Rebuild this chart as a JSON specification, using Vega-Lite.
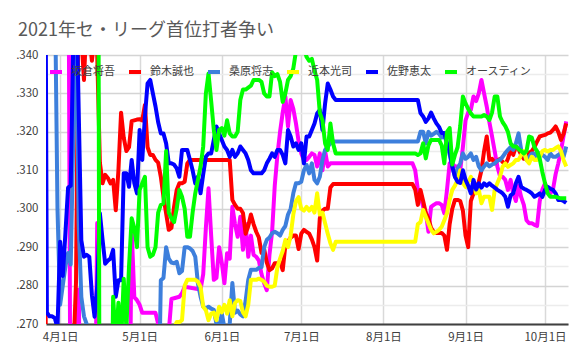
{
"$schema":"https://vega.github.io/schema/vega-lite/v6.json",
"width":522,"height":269,
"autosize":{"type":"none"},
"padding":{"left":46,"top":55,"right":18,"bottom":38},
"background":"white",
"title":{"text":"2021年セ・リーグ首位打者争い","anchor":"start","frame":"group","dx":-28,"offset":9,"font":"Noto Sans CJK JP","fontSize":18,"fontWeight":"normal","color":"#595959"},
"config":{"view":{"stroke":null},"font":"Noto Sans CJK JP"},
"datasets":{
"sakakura":[{"d":"2021/3/26","v":0.40},{"d":"2021/4/4","v":0.40},{"d":"2021/4/5","v":0.22},{"d":"2021/4/7","v":0.24},{"d":"2021/4/8","v":0.279},{"d":"2021/4/9","v":0.23},{"d":"2021/4/14","v":0.23},{"d":"2021/4/15","v":0.2963},{"d":"2021/4/16","v":0.23},{"d":"2021/4/27","v":0.23},{"d":"2021/4/28","v":0.2945},{"d":"2021/4/29","v":0.2770},{"d":"2021/4/30","v":0.2762},{"d":"2021/5/1","v":0.2750},{"d":"2021/5/2","v":0.2729},{"d":"2021/5/7","v":0.2729},{"d":"2021/5/8","v":0.2700},{"d":"2021/5/9","v":0.2680},{"d":"2021/5/12","v":0.2680},{"d":"2021/5/13","v":0.2765},{"d":"2021/5/16","v":0.2771},{"d":"2021/5/17","v":0.2780},{"d":"2021/5/18","v":0.2797},{"d":"2021/5/24","v":0.2790},{"d":"2021/5/25","v":0.2830},{"d":"2021/5/26","v":0.2950},{"d":"2021/5/27","v":0.3053},{"d":"2021/5/28","v":0.2930},{"d":"2021/5/29","v":0.2815},{"d":"2021/5/30","v":0.2820},{"d":"2021/5/31","v":0.2900},{"d":"2021/6/1","v":0.2860},{"d":"2021/6/2","v":0.2806},{"d":"2021/6/3","v":0.2884},{"d":"2021/6/4","v":0.2870},{"d":"2021/6/5","v":0.3005},{"d":"2021/6/6","v":0.2960},{"d":"2021/6/7","v":0.2927},{"d":"2021/6/8","v":0.2979},{"d":"2021/6/9","v":0.2893},{"d":"2021/6/10","v":0.2960},{"d":"2021/6/11","v":0.2875},{"d":"2021/6/12","v":0.2930},{"d":"2021/6/13","v":0.2880},{"d":"2021/6/14","v":0.2875},{"d":"2021/6/15","v":0.2865},{"d":"2021/6/16","v":0.2830},{"d":"2021/6/17","v":0.2806},{"d":"2021/6/18","v":0.2788},{"d":"2021/6/19","v":0.2880},{"d":"2021/6/20","v":0.2940},{"d":"2021/6/21","v":0.3060},{"d":"2021/6/22","v":0.3140},{"d":"2021/6/23","v":0.3200},{"d":"2021/6/24","v":0.3250},{"d":"2021/6/25","v":0.3292},{"d":"2021/6/26","v":0.3214},{"d":"2021/6/27","v":0.3283},{"d":"2021/6/28","v":0.3260},{"d":"2021/6/29","v":0.3222},{"d":"2021/6/30","v":0.3175},{"d":"2021/7/1","v":0.3144},{"d":"2021/7/2","v":0.3127},{"d":"2021/7/3","v":0.3127},{"d":"2021/7/4","v":0.3135},{"d":"2021/7/5","v":0.3144},{"d":"2021/7/6","v":0.3140},{"d":"2021/7/7","v":0.3110},{"d":"2021/7/8","v":0.3144},{"d":"2021/7/9","v":0.3100},{"d":"2021/7/10","v":0.3150},{"d":"2021/7/11","v":0.3110},{"d":"2021/7/12","v":0.3118},{"d":"2021/8/12","v":0.3118},{"d":"2021/8/13","v":0.3100},{"d":"2021/8/14","v":0.3049},{"d":"2021/8/15","v":0.3031},{"d":"2021/8/16","v":0.3005},{"d":"2021/8/17","v":0.2990},{"d":"2021/8/18","v":0.2940},{"d":"2021/8/19","v":0.3005},{"d":"2021/8/20","v":0.3010},{"d":"2021/8/21","v":0.3014},{"d":"2021/8/22","v":0.3014},{"d":"2021/8/23","v":0.3010},{"d":"2021/8/24","v":0.2988},{"d":"2021/8/25","v":0.3049},{"d":"2021/8/26","v":0.3118},{"d":"2021/8/27","v":0.3118},{"d":"2021/8/28","v":0.3110},{"d":"2021/8/29","v":0.3110},{"d":"2021/8/30","v":0.3100},{"d":"2021/8/31","v":0.3160},{"d":"2021/9/1","v":0.3230},{"d":"2021/9/2","v":0.3250},{"d":"2021/9/3","v":0.3257},{"d":"2021/9/4","v":0.3292},{"d":"2021/9/5","v":0.3280},{"d":"2021/9/6","v":0.3300},{"d":"2021/9/7","v":0.3335},{"d":"2021/9/8","v":0.3300},{"d":"2021/9/9","v":0.3266},{"d":"2021/9/10","v":0.3225},{"d":"2021/9/11","v":0.3188},{"d":"2021/9/12","v":0.3150},{"d":"2021/9/13","v":0.3110},{"d":"2021/9/14","v":0.3085},{"d":"2021/9/15","v":0.3083},{"d":"2021/9/16","v":0.3075},{"d":"2021/9/17","v":0.3049},{"d":"2021/9/18","v":0.3075},{"d":"2021/9/19","v":0.3040},{"d":"2021/9/20","v":0.3020},{"d":"2021/9/21","v":0.3060},{"d":"2021/9/22","v":0.3030},{"d":"2021/9/23","v":0.3010},{"d":"2021/9/24","v":0.2970},{"d":"2021/9/25","v":0.2962},{"d":"2021/9/26","v":0.2962},{"d":"2021/9/27","v":0.2958},{"d":"2021/9/28","v":0.2955},{"d":"2021/9/29","v":0.3020},{"d":"2021/9/30","v":0.3050},{"d":"2021/10/1","v":0.3066},{"d":"2021/10/2","v":0.3045},{"d":"2021/10/3","v":0.3040},{"d":"2021/10/4","v":0.3050},{"d":"2021/10/5","v":0.3090},{"d":"2021/10/6","v":0.3118},{"d":"2021/10/7","v":0.3150},{"d":"2021/10/8","v":0.3190},{"d":"2021/10/9","v":0.3227}],
"suzuki":[{"d":"2021/3/26","v":0.333},{"d":"2021/3/27","v":0.22},{"d":"2021/4/5","v":0.22},{"d":"2021/4/6","v":0.262},{"d":"2021/4/7","v":0.281},{"d":"2021/4/8","v":0.36},{"d":"2021/4/9","v":0.345},{"d":"2021/4/10","v":0.3335},{"d":"2021/4/11","v":0.35},{"d":"2021/4/12","v":0.345},{"d":"2021/4/13","v":0.3385},{"d":"2021/4/14","v":0.345},{"d":"2021/4/15","v":0.34},{"d":"2021/4/16","v":0.312},{"d":"2021/4/17","v":0.3066},{"d":"2021/4/18","v":0.3088},{"d":"2021/4/19","v":0.3080},{"d":"2021/4/20","v":0.3066},{"d":"2021/4/21","v":0.3075},{"d":"2021/4/22","v":0.2996},{"d":"2021/4/23","v":0.3100},{"d":"2021/4/24","v":0.3250},{"d":"2021/4/25","v":0.3185},{"d":"2021/4/26","v":0.3150},{"d":"2021/4/27","v":0.3160},{"d":"2021/4/28","v":0.3228},{"d":"2021/4/29","v":0.3230},{"d":"2021/4/30","v":0.3232},{"d":"2021/5/1","v":0.3233},{"d":"2021/5/2","v":0.3230},{"d":"2021/5/3","v":0.3270},{"d":"2021/5/4","v":0.3160},{"d":"2021/5/5","v":0.3140},{"d":"2021/5/6","v":0.3140},{"d":"2021/5/7","v":0.3127},{"d":"2021/5/8","v":0.3120},{"d":"2021/5/9","v":0.3083},{"d":"2021/5/10","v":0.3031},{"d":"2021/5/11","v":0.2988},{"d":"2021/5/12","v":0.2945},{"d":"2021/5/13","v":0.2950},{"d":"2021/5/14","v":0.3005},{"d":"2021/5/15","v":0.3049},{"d":"2021/5/16","v":0.3066},{"d":"2021/5/17","v":0.3066},{"d":"2021/5/18","v":0.3070},{"d":"2021/5/19","v":0.3118},{"d":"2021/5/20","v":0.3127},{"d":"2021/6/4","v":0.3127},{"d":"2021/6/5","v":0.3023},{"d":"2021/6/6","v":0.3010},{"d":"2021/6/7","v":0.3000},{"d":"2021/6/8","v":0.3000},{"d":"2021/6/9","v":0.2989},{"d":"2021/6/10","v":0.2935},{"d":"2021/6/11","v":0.2955},{"d":"2021/6/12","v":0.2985},{"d":"2021/6/13","v":0.2960},{"d":"2021/6/14","v":0.2940},{"d":"2021/6/15","v":0.2925},{"d":"2021/6/16","v":0.2885},{"d":"2021/6/17","v":0.2895},{"d":"2021/6/18","v":0.2860},{"d":"2021/6/19","v":0.2840},{"d":"2021/6/20","v":0.2845},{"d":"2021/6/21","v":0.2858},{"d":"2021/6/22","v":0.2858},{"d":"2021/6/23","v":0.2862},{"d":"2021/6/24","v":0.2840},{"d":"2021/6/25","v":0.2905},{"d":"2021/6/26","v":0.2915},{"d":"2021/6/27","v":0.2925},{"d":"2021/6/28","v":0.2930},{"d":"2021/6/29","v":0.2930},{"d":"2021/6/30","v":0.2895},{"d":"2021/7/1","v":0.2935},{"d":"2021/7/2","v":0.2945},{"d":"2021/7/3","v":0.2940},{"d":"2021/7/4","v":0.2935},{"d":"2021/7/5","v":0.2920},{"d":"2021/7/6","v":0.2900},{"d":"2021/7/7","v":0.2865},{"d":"2021/7/8","v":0.2975},{"d":"2021/7/9","v":0.2995},{"d":"2021/7/10","v":0.3000},{"d":"2021/7/11","v":0.3000},{"d":"2021/7/12","v":0.3055},{"d":"2021/7/13","v":0.3064},{"d":"2021/8/12","v":0.3064},{"d":"2021/8/13","v":0.3050},{"d":"2021/8/14","v":0.3010},{"d":"2021/8/15","v":0.3049},{"d":"2021/8/16","v":0.3020},{"d":"2021/8/17","v":0.2989},{"d":"2021/8/18","v":0.2975},{"d":"2021/8/19","v":0.2950},{"d":"2021/8/20","v":0.2940},{"d":"2021/8/21","v":0.2937},{"d":"2021/8/22","v":0.2937},{"d":"2021/8/23","v":0.2937},{"d":"2021/8/24","v":0.2930},{"d":"2021/8/25","v":0.2893},{"d":"2021/8/26","v":0.2960},{"d":"2021/8/27","v":0.3000},{"d":"2021/8/28","v":0.3023},{"d":"2021/8/29","v":0.3023},{"d":"2021/8/30","v":0.3020},{"d":"2021/8/31","v":0.2995},{"d":"2021/9/1","v":0.2930},{"d":"2021/9/2","v":0.2900},{"d":"2021/9/3","v":0.3020},{"d":"2021/9/4","v":0.3040},{"d":"2021/9/5","v":0.3055},{"d":"2021/9/6","v":0.3070},{"d":"2021/9/7","v":0.3100},{"d":"2021/9/8","v":0.3150},{"d":"2021/9/9","v":0.3188},{"d":"2021/9/10","v":0.3127},{"d":"2021/9/11","v":0.3130},{"d":"2021/9/12","v":0.3118},{"d":"2021/9/13","v":0.3125},{"d":"2021/9/14","v":0.3130},{"d":"2021/9/15","v":0.3122},{"d":"2021/9/16","v":0.3114},{"d":"2021/9/17","v":0.3130},{"d":"2021/9/18","v":0.3153},{"d":"2021/9/19","v":0.3140},{"d":"2021/9/20","v":0.3162},{"d":"2021/9/21","v":0.3155},{"d":"2021/9/22","v":0.3140},{"d":"2021/9/23","v":0.3130},{"d":"2021/9/24","v":0.3135},{"d":"2021/9/25","v":0.3145},{"d":"2021/9/26","v":0.3150},{"d":"2021/9/27","v":0.3160},{"d":"2021/9/28","v":0.3175},{"d":"2021/9/29","v":0.3188},{"d":"2021/9/30","v":0.3190},{"d":"2021/10/1","v":0.3192},{"d":"2021/10/2","v":0.3196},{"d":"2021/10/3","v":0.3198},{"d":"2021/10/4","v":0.3205},{"d":"2021/10/5","v":0.3214},{"d":"2021/10/6","v":0.3200},{"d":"2021/10/7","v":0.3179},{"d":"2021/10/8","v":0.3195},{"d":"2021/10/9","v":0.3222}],
"kuwahara":[{"d":"2021/3/26","v":0.40},{"d":"2021/3/29","v":0.40},{"d":"2021/3/30","v":0.36},{"d":"2021/3/31","v":0.300},{"d":"2021/4/1","v":0.2750},{"d":"2021/4/2","v":0.2800},{"d":"2021/4/3","v":0.2850},{"d":"2021/4/4","v":0.2885},{"d":"2021/4/5","v":0.2855},{"d":"2021/4/6","v":0.3200},{"d":"2021/4/7","v":0.36},{"d":"2021/4/8","v":0.2960},{"d":"2021/4/9","v":0.2770},{"d":"2021/4/10","v":0.2720},{"d":"2021/4/11","v":0.2700},{"d":"2021/4/12","v":0.24},{"d":"2021/5/8","v":0.24},{"d":"2021/5/9","v":0.2814},{"d":"2021/5/10","v":0.2820},{"d":"2021/5/11","v":0.2900},{"d":"2021/5/12","v":0.2870},{"d":"2021/5/13","v":0.2860},{"d":"2021/5/14","v":0.2858},{"d":"2021/5/15","v":0.2862},{"d":"2021/5/16","v":0.2832},{"d":"2021/5/17","v":0.2838},{"d":"2021/5/18","v":0.2900},{"d":"2021/5/19","v":0.2900},{"d":"2021/5/20","v":0.2897},{"d":"2021/5/21","v":0.2890},{"d":"2021/5/22","v":0.2875},{"d":"2021/5/23","v":0.2806},{"d":"2021/5/24","v":0.2771},{"d":"2021/5/25","v":0.2745},{"d":"2021/5/26","v":0.2740},{"d":"2021/5/27","v":0.2745},{"d":"2021/5/28","v":0.2740},{"d":"2021/5/29","v":0.2737},{"d":"2021/5/30","v":0.2700},{"d":"2021/5/31","v":0.2690},{"d":"2021/6/1","v":0.2728},{"d":"2021/6/2","v":0.2690},{"d":"2021/6/3","v":0.2680},{"d":"2021/6/4","v":0.2700},{"d":"2021/6/5","v":0.2807},{"d":"2021/6/6","v":0.2729},{"d":"2021/6/7","v":0.2735},{"d":"2021/6/8","v":0.2725},{"d":"2021/6/9","v":0.2720},{"d":"2021/6/10","v":0.2760},{"d":"2021/6/11","v":0.2815},{"d":"2021/6/12","v":0.2841},{"d":"2021/6/13","v":0.2841},{"d":"2021/6/14","v":0.2841},{"d":"2021/6/15","v":0.2846},{"d":"2021/6/16","v":0.2848},{"d":"2021/6/17","v":0.2900},{"d":"2021/6/18","v":0.2919},{"d":"2021/6/19","v":0.2925},{"d":"2021/6/20","v":0.2936},{"d":"2021/6/21","v":0.2940},{"d":"2021/6/22","v":0.2936},{"d":"2021/6/23","v":0.2930},{"d":"2021/6/24","v":0.2945},{"d":"2021/6/25","v":0.2955},{"d":"2021/6/26","v":0.2985},{"d":"2021/6/27","v":0.3000},{"d":"2021/6/28","v":0.3040},{"d":"2021/6/29","v":0.3066},{"d":"2021/6/30","v":0.3066},{"d":"2021/7/1","v":0.3070},{"d":"2021/7/2","v":0.3100},{"d":"2021/7/3","v":0.3114},{"d":"2021/7/4","v":0.3092},{"d":"2021/7/5","v":0.3118},{"d":"2021/7/6","v":0.3075},{"d":"2021/7/7","v":0.3066},{"d":"2021/7/8","v":0.3083},{"d":"2021/7/9","v":0.3127},{"d":"2021/7/10","v":0.3153},{"d":"2021/7/11","v":0.3162},{"d":"2021/7/12","v":0.3170},{"d":"2021/7/13","v":0.3175},{"d":"2021/8/13","v":0.3175},{"d":"2021/8/14","v":0.3175},{"d":"2021/8/15","v":0.3200},{"d":"2021/8/16","v":0.3200},{"d":"2021/8/17","v":0.3170},{"d":"2021/8/18","v":0.3200},{"d":"2021/8/19","v":0.3190},{"d":"2021/8/20","v":0.3195},{"d":"2021/8/21","v":0.3200},{"d":"2021/8/22","v":0.3195},{"d":"2021/8/23","v":0.3185},{"d":"2021/8/24","v":0.3190},{"d":"2021/8/25","v":0.3170},{"d":"2021/8/26","v":0.3140},{"d":"2021/8/27","v":0.3110},{"d":"2021/8/28","v":0.3083},{"d":"2021/8/29","v":0.3105},{"d":"2021/8/30","v":0.3118},{"d":"2021/8/31","v":0.3144},{"d":"2021/9/1","v":0.3130},{"d":"2021/9/2","v":0.3135},{"d":"2021/9/3","v":0.3144},{"d":"2021/9/4","v":0.3127},{"d":"2021/9/5","v":0.3135},{"d":"2021/9/6","v":0.3110},{"d":"2021/9/7","v":0.3100},{"d":"2021/9/8","v":0.3110},{"d":"2021/9/9","v":0.3118},{"d":"2021/9/10","v":0.3110},{"d":"2021/9/11","v":0.3115},{"d":"2021/9/12","v":0.3118},{"d":"2021/9/13","v":0.3125},{"d":"2021/9/14","v":0.3127},{"d":"2021/9/15","v":0.3135},{"d":"2021/9/16","v":0.3145},{"d":"2021/9/17","v":0.3153},{"d":"2021/9/18","v":0.3160},{"d":"2021/9/19","v":0.3153},{"d":"2021/9/20","v":0.3170},{"d":"2021/9/21","v":0.3196},{"d":"2021/9/22","v":0.3153},{"d":"2021/9/23","v":0.3144},{"d":"2021/9/24","v":0.3127},{"d":"2021/9/25","v":0.3135},{"d":"2021/9/26","v":0.3144},{"d":"2021/9/27","v":0.3144},{"d":"2021/9/28","v":0.3135},{"d":"2021/9/29","v":0.3144},{"d":"2021/9/30","v":0.3140},{"d":"2021/10/1","v":0.3135},{"d":"2021/10/2","v":0.3127},{"d":"2021/10/3","v":0.3144},{"d":"2021/10/4","v":0.3135},{"d":"2021/10/5","v":0.3135},{"d":"2021/10/6","v":0.3140},{"d":"2021/10/7","v":0.3144},{"d":"2021/10/8","v":0.3135},{"d":"2021/10/9","v":0.3162}],
"chikamoto":[{"d":"2021/3/26","v":0.25},{"d":"2021/5/14","v":0.2690},{"d":"2021/5/15","v":0.2705},{"d":"2021/5/16","v":0.2705},{"d":"2021/5/17","v":0.2710},{"d":"2021/5/18","v":0.2800},{"d":"2021/5/19","v":0.2815},{"d":"2021/5/22","v":0.2815},{"d":"2021/5/23","v":0.2810},{"d":"2021/5/24","v":0.2797},{"d":"2021/5/25","v":0.2745},{"d":"2021/5/26","v":0.2736},{"d":"2021/5/27","v":0.2710},{"d":"2021/5/28","v":0.2727},{"d":"2021/5/29","v":0.2730},{"d":"2021/5/30","v":0.2710},{"d":"2021/5/31","v":0.2745},{"d":"2021/6/1","v":0.2730},{"d":"2021/6/2","v":0.2750},{"d":"2021/6/3","v":0.2727},{"d":"2021/6/4","v":0.2762},{"d":"2021/6/5","v":0.2720},{"d":"2021/6/6","v":0.2755},{"d":"2021/6/7","v":0.2762},{"d":"2021/6/8","v":0.2760},{"d":"2021/6/9","v":0.2730},{"d":"2021/6/10","v":0.2720},{"d":"2021/6/11","v":0.2750},{"d":"2021/6/12","v":0.2815},{"d":"2021/6/13","v":0.2815},{"d":"2021/6/14","v":0.2815},{"d":"2021/6/15","v":0.2818},{"d":"2021/6/16","v":0.2815},{"d":"2021/6/17","v":0.2810},{"d":"2021/6/18","v":0.2800},{"d":"2021/6/19","v":0.2797},{"d":"2021/6/20","v":0.2797},{"d":"2021/6/21","v":0.2800},{"d":"2021/6/22","v":0.2848},{"d":"2021/6/23","v":0.2870},{"d":"2021/6/24","v":0.2890},{"d":"2021/6/25","v":0.2919},{"d":"2021/6/26","v":0.2900},{"d":"2021/6/27","v":0.2930},{"d":"2021/6/28","v":0.2985},{"d":"2021/6/29","v":0.3020},{"d":"2021/6/30","v":0.3030},{"d":"2021/7/1","v":0.3000},{"d":"2021/7/2","v":0.2995},{"d":"2021/7/3","v":0.3005},{"d":"2021/7/4","v":0.2995},{"d":"2021/7/5","v":0.3005},{"d":"2021/7/6","v":0.2990},{"d":"2021/7/7","v":0.3040},{"d":"2021/7/8","v":0.2985},{"d":"2021/7/9","v":0.2990},{"d":"2021/7/10","v":0.2962},{"d":"2021/7/11","v":0.2935},{"d":"2021/7/12","v":0.2910},{"d":"2021/7/13","v":0.2893},{"d":"2021/7/14","v":0.2914},{"d":"2021/8/12","v":0.2914},{"d":"2021/8/13","v":0.2914},{"d":"2021/8/14","v":0.2960},{"d":"2021/8/15","v":0.2965},{"d":"2021/8/16","v":0.2997},{"d":"2021/8/17","v":0.2979},{"d":"2021/8/18","v":0.2962},{"d":"2021/8/19","v":0.2945},{"d":"2021/8/20","v":0.2936},{"d":"2021/8/21","v":0.2940},{"d":"2021/8/22","v":0.2945},{"d":"2021/8/23","v":0.2953},{"d":"2021/8/24","v":0.2970},{"d":"2021/8/25","v":0.2988},{"d":"2021/8/26","v":0.3023},{"d":"2021/8/27","v":0.3049},{"d":"2021/8/28","v":0.3060},{"d":"2021/8/29","v":0.3075},{"d":"2021/8/30","v":0.3100},{"d":"2021/8/31","v":0.3066},{"d":"2021/9/1","v":0.3057},{"d":"2021/9/2","v":0.3070},{"d":"2021/9/3","v":0.3083},{"d":"2021/9/4","v":0.3066},{"d":"2021/9/5","v":0.3040},{"d":"2021/9/6","v":0.3049},{"d":"2021/9/7","v":0.3014},{"d":"2021/9/8","v":0.3031},{"d":"2021/9/9","v":0.3031},{"d":"2021/9/10","v":0.3031},{"d":"2021/9/11","v":0.2997},{"d":"2021/9/12","v":0.3049},{"d":"2021/9/13","v":0.3066},{"d":"2021/9/14","v":0.3083},{"d":"2021/9/15","v":0.3109},{"d":"2021/9/16","v":0.3118},{"d":"2021/9/17","v":0.3109},{"d":"2021/9/18","v":0.3114},{"d":"2021/9/19","v":0.3118},{"d":"2021/9/20","v":0.3127},{"d":"2021/9/21","v":0.3127},{"d":"2021/9/22","v":0.3140},{"d":"2021/9/23","v":0.3150},{"d":"2021/9/24","v":0.3127},{"d":"2021/9/25","v":0.3118},{"d":"2021/9/26","v":0.3135},{"d":"2021/9/27","v":0.3127},{"d":"2021/9/28","v":0.3127},{"d":"2021/9/29","v":0.3135},{"d":"2021/9/30","v":0.3150},{"d":"2021/10/1","v":0.3153},{"d":"2021/10/2","v":0.3149},{"d":"2021/10/3","v":0.3153},{"d":"2021/10/4","v":0.3153},{"d":"2021/10/5","v":0.3158},{"d":"2021/10/6","v":0.3162},{"d":"2021/10/7","v":0.3150},{"d":"2021/10/8","v":0.3127},{"d":"2021/10/9","v":0.3110}],
"sano":[{"d":"2021/3/26","v":0.45},{"d":"2021/3/27","v":0.273},{"d":"2021/3/28","v":0.272},{"d":"2021/3/29","v":0.272},{"d":"2021/3/30","v":0.2715},{"d":"2021/3/31","v":0.269},{"d":"2021/4/1","v":0.2914},{"d":"2021/4/2","v":0.2825},{"d":"2021/4/3","v":0.2937},{"d":"2021/4/4","v":0.3055},{"d":"2021/4/5","v":0.306},{"d":"2021/4/6","v":0.345},{"d":"2021/4/7","v":0.36},{"d":"2021/4/9","v":0.2918},{"d":"2021/4/10","v":0.2875},{"d":"2021/4/11","v":0.2880},{"d":"2021/4/12","v":0.2875},{"d":"2021/4/13","v":0.2775},{"d":"2021/4/14","v":0.2719},{"d":"2021/4/15","v":0.2800},{"d":"2021/4/16","v":0.2988},{"d":"2021/4/17","v":0.2920},{"d":"2021/4/18","v":0.2857},{"d":"2021/4/19","v":0.2865},{"d":"2021/4/20","v":0.2870},{"d":"2021/4/21","v":0.2893},{"d":"2021/4/22","v":0.2771},{"d":"2021/4/23","v":0.2814},{"d":"2021/4/24","v":0.2814},{"d":"2021/4/25","v":0.3092},{"d":"2021/4/26","v":0.3092},{"d":"2021/4/27","v":0.3057},{"d":"2021/4/28","v":0.3127},{"d":"2021/4/29","v":0.3066},{"d":"2021/4/30","v":0.3040},{"d":"2021/5/1","v":0.3205},{"d":"2021/5/2","v":0.3127},{"d":"2021/5/3","v":0.3240},{"d":"2021/5/4","v":0.3326},{"d":"2021/5/5","v":0.3335},{"d":"2021/5/6","v":0.3300},{"d":"2021/5/7","v":0.3266},{"d":"2021/5/8","v":0.3225},{"d":"2021/5/9","v":0.3196},{"d":"2021/5/10","v":0.3196},{"d":"2021/5/11","v":0.3170},{"d":"2021/5/12","v":0.3118},{"d":"2021/5/13","v":0.3118},{"d":"2021/5/14","v":0.3115},{"d":"2021/5/15","v":0.3105},{"d":"2021/5/16","v":0.3083},{"d":"2021/5/17","v":0.3153},{"d":"2021/5/18","v":0.3153},{"d":"2021/5/19","v":0.3153},{"d":"2021/5/20","v":0.3127},{"d":"2021/5/21","v":0.3100},{"d":"2021/5/22","v":0.3066},{"d":"2021/5/23","v":0.3083},{"d":"2021/5/24","v":0.3040},{"d":"2021/5/25","v":0.3090},{"d":"2021/5/26","v":0.3135},{"d":"2021/5/27","v":0.3144},{"d":"2021/5/28","v":0.3144},{"d":"2021/5/29","v":0.3179},{"d":"2021/5/30","v":0.3214},{"d":"2021/5/31","v":0.3196},{"d":"2021/6/1","v":0.3179},{"d":"2021/6/2","v":0.3162},{"d":"2021/6/3","v":0.3153},{"d":"2021/6/4","v":0.3135},{"d":"2021/6/5","v":0.3153},{"d":"2021/6/6","v":0.3135},{"d":"2021/6/7","v":0.3144},{"d":"2021/6/8","v":0.3162},{"d":"2021/6/9","v":0.3153},{"d":"2021/6/10","v":0.3144},{"d":"2021/6/11","v":0.3127},{"d":"2021/6/12","v":0.3100},{"d":"2021/6/13","v":0.3092},{"d":"2021/6/14","v":0.3092},{"d":"2021/6/15","v":0.3092},{"d":"2021/6/16","v":0.3092},{"d":"2021/6/17","v":0.3100},{"d":"2021/6/18","v":0.3118},{"d":"2021/6/19","v":0.3130},{"d":"2021/6/20","v":0.3144},{"d":"2021/6/21","v":0.3135},{"d":"2021/6/22","v":0.3153},{"d":"2021/6/23","v":0.3153},{"d":"2021/6/24","v":0.3140},{"d":"2021/6/25","v":0.3118},{"d":"2021/6/26","v":0.3205},{"d":"2021/6/27","v":0.3188},{"d":"2021/6/28","v":0.3162},{"d":"2021/6/29","v":0.3170},{"d":"2021/6/30","v":0.3153},{"d":"2021/7/1","v":0.3170},{"d":"2021/7/2","v":0.3118},{"d":"2021/7/3","v":0.3188},{"d":"2021/7/4","v":0.3188},{"d":"2021/7/5","v":0.3205},{"d":"2021/7/6","v":0.3222},{"d":"2021/7/7","v":0.3248},{"d":"2021/7/8","v":0.3257},{"d":"2021/7/9","v":0.3205},{"d":"2021/7/10","v":0.3274},{"d":"2021/7/11","v":0.3326},{"d":"2021/7/12","v":0.3310},{"d":"2021/7/13","v":0.3292},{"d":"2021/7/14","v":0.3283},{"d":"2021/8/14","v":0.3283},{"d":"2021/8/15","v":0.3249},{"d":"2021/8/16","v":0.3240},{"d":"2021/8/17","v":0.3226},{"d":"2021/8/18","v":0.3235},{"d":"2021/8/19","v":0.3250},{"d":"2021/8/20","v":0.3235},{"d":"2021/8/21","v":0.3222},{"d":"2021/8/22","v":0.3213},{"d":"2021/8/23","v":0.3197},{"d":"2021/8/24","v":0.3197},{"d":"2021/8/25","v":0.3170},{"d":"2021/8/26","v":0.3150},{"d":"2021/8/27","v":0.3110},{"d":"2021/8/28","v":0.3083},{"d":"2021/8/29","v":0.3070},{"d":"2021/8/30","v":0.3067},{"d":"2021/8/31","v":0.3100},{"d":"2021/9/1","v":0.3075},{"d":"2021/9/2","v":0.3060},{"d":"2021/9/3","v":0.3040},{"d":"2021/9/4","v":0.3075},{"d":"2021/9/5","v":0.3050},{"d":"2021/9/6","v":0.3066},{"d":"2021/9/7","v":0.3055},{"d":"2021/9/8","v":0.3066},{"d":"2021/9/9","v":0.3060},{"d":"2021/9/10","v":0.3066},{"d":"2021/9/11","v":0.3060},{"d":"2021/9/12","v":0.3055},{"d":"2021/9/13","v":0.3049},{"d":"2021/9/14","v":0.3045},{"d":"2021/9/15","v":0.3040},{"d":"2021/9/16","v":0.3031},{"d":"2021/9/17","v":0.3005},{"d":"2021/9/18","v":0.3035},{"d":"2021/9/19","v":0.3040},{"d":"2021/9/20","v":0.3066},{"d":"2021/9/21","v":0.3083},{"d":"2021/9/22","v":0.3057},{"d":"2021/9/23","v":0.3052},{"d":"2021/9/24","v":0.3049},{"d":"2021/9/25","v":0.3045},{"d":"2021/9/26","v":0.3040},{"d":"2021/9/27","v":0.3031},{"d":"2021/9/28","v":0.3035},{"d":"2021/9/29","v":0.3040},{"d":"2021/9/30","v":0.3031},{"d":"2021/10/1","v":0.3049},{"d":"2021/10/2","v":0.3057},{"d":"2021/10/3","v":0.3052},{"d":"2021/10/4","v":0.3049},{"d":"2021/10/5","v":0.3040},{"d":"2021/10/6","v":0.3023},{"d":"2021/10/7","v":0.3023},{"d":"2021/10/8","v":0.3020},{"d":"2021/10/9","v":0.3015}],
"austin":[{"d":"2021/4/15","v":0.50},{"d":"2021/4/16","v":0.20},{"d":"2021/4/20","v":0.22},{"d":"2021/4/21","v":0.2771},{"d":"2021/4/22","v":0.2650},{"d":"2021/4/23","v":0.2755},{"d":"2021/4/24","v":0.2650},{"d":"2021/4/25","v":0.2818},{"d":"2021/4/26","v":0.2690},{"d":"2021/4/27","v":0.2850},{"d":"2021/4/28","v":0.2975},{"d":"2021/4/29","v":0.2950},{"d":"2021/4/30","v":0.2900},{"d":"2021/5/1","v":0.3049},{"d":"2021/5/2","v":0.3066},{"d":"2021/5/3","v":0.3083},{"d":"2021/5/4","v":0.2900},{"d":"2021/5/5","v":0.2875},{"d":"2021/5/6","v":0.2880},{"d":"2021/5/7","v":0.2900},{"d":"2021/5/8","v":0.2990},{"d":"2021/5/9","v":0.3010},{"d":"2021/5/10","v":0.3014},{"d":"2021/5/11","v":0.3150},{"d":"2021/5/12","v":0.2990},{"d":"2021/5/13","v":0.2975},{"d":"2021/5/14","v":0.2965},{"d":"2021/5/15","v":0.3000},{"d":"2021/5/16","v":0.3049},{"d":"2021/5/17","v":0.3031},{"d":"2021/5/18","v":0.3000},{"d":"2021/5/19","v":0.2927},{"d":"2021/5/20","v":0.2927},{"d":"2021/5/21","v":0.2990},{"d":"2021/5/22","v":0.3040},{"d":"2021/5/23","v":0.3075},{"d":"2021/5/24","v":0.3110},{"d":"2021/5/25","v":0.3162},{"d":"2021/5/26","v":0.3300},{"d":"2021/5/27","v":0.3352},{"d":"2021/5/28","v":0.3280},{"d":"2021/5/29","v":0.3205},{"d":"2021/5/30","v":0.3153},{"d":"2021/5/31","v":0.3205},{"d":"2021/6/1","v":0.3210},{"d":"2021/6/2","v":0.3190},{"d":"2021/6/3","v":0.3230},{"d":"2021/6/4","v":0.3196},{"d":"2021/6/5","v":0.3188},{"d":"2021/6/6","v":0.3188},{"d":"2021/6/7","v":0.3200},{"d":"2021/6/8","v":0.3283},{"d":"2021/6/9","v":0.3310},{"d":"2021/6/10","v":0.3310},{"d":"2021/6/11","v":0.3315},{"d":"2021/6/12","v":0.3320},{"d":"2021/6/13","v":0.3335},{"d":"2021/6/14","v":0.3335},{"d":"2021/6/15","v":0.3335},{"d":"2021/6/16","v":0.3330},{"d":"2021/6/17","v":0.3300},{"d":"2021/6/18","v":0.3292},{"d":"2021/6/19","v":0.3292},{"d":"2021/6/20","v":0.3355},{"d":"2021/6/21","v":0.3345},{"d":"2021/6/22","v":0.3350},{"d":"2021/6/23","v":0.3330},{"d":"2021/6/24","v":0.3278},{"d":"2021/6/25","v":0.3300},{"d":"2021/6/26","v":0.3335},{"d":"2021/6/27","v":0.3345},{"d":"2021/6/28","v":0.3365},{"d":"2021/6/29","v":0.3410},{"d":"2021/6/30","v":0.3440},{"d":"2021/7/1","v":0.3450},{"d":"2021/7/2","v":0.3420},{"d":"2021/7/3","v":0.3395},{"d":"2021/7/4","v":0.3385},{"d":"2021/7/5","v":0.3390},{"d":"2021/7/6","v":0.3360},{"d":"2021/7/7","v":0.3335},{"d":"2021/7/8","v":0.3250},{"d":"2021/7/9","v":0.3230},{"d":"2021/7/10","v":0.3170},{"d":"2021/7/11","v":0.3153},{"d":"2021/7/12","v":0.3222},{"d":"2021/7/13","v":0.3170},{"d":"2021/7/14","v":0.3144},{"d":"2021/8/13","v":0.3144},{"d":"2021/8/14","v":0.3140},{"d":"2021/8/15","v":0.3144},{"d":"2021/8/16","v":0.3170},{"d":"2021/8/17","v":0.3131},{"d":"2021/8/18","v":0.3165},{"d":"2021/8/19","v":0.3179},{"d":"2021/8/20","v":0.3179},{"d":"2021/8/21","v":0.3179},{"d":"2021/8/22","v":0.3179},{"d":"2021/8/23","v":0.3165},{"d":"2021/8/24","v":0.3118},{"d":"2021/8/25","v":0.3200},{"d":"2021/8/26","v":0.3210},{"d":"2021/8/27","v":0.3115},{"d":"2021/8/28","v":0.3140},{"d":"2021/8/29","v":0.3160},{"d":"2021/8/30","v":0.3215},{"d":"2021/8/31","v":0.3292},{"d":"2021/9/1","v":0.3274},{"d":"2021/9/2","v":0.3260},{"d":"2021/9/3","v":0.3248},{"d":"2021/9/4","v":0.3240},{"d":"2021/9/5","v":0.3240},{"d":"2021/9/6","v":0.3240},{"d":"2021/9/7","v":0.3240},{"d":"2021/9/8","v":0.3244},{"d":"2021/9/9","v":0.3240},{"d":"2021/9/10","v":0.3231},{"d":"2021/9/11","v":0.3250},{"d":"2021/9/12","v":0.3292},{"d":"2021/9/13","v":0.3292},{"d":"2021/9/14","v":0.3240},{"d":"2021/9/15","v":0.3225},{"d":"2021/9/16","v":0.3215},{"d":"2021/9/17","v":0.3200},{"d":"2021/9/18","v":0.3170},{"d":"2021/9/19","v":0.3162},{"d":"2021/9/20","v":0.3162},{"d":"2021/9/21","v":0.3155},{"d":"2021/9/22","v":0.3150},{"d":"2021/9/23","v":0.3144},{"d":"2021/9/24","v":0.3150},{"d":"2021/9/25","v":0.3188},{"d":"2021/9/26","v":0.3185},{"d":"2021/9/27","v":0.3160},{"d":"2021/9/28","v":0.3150},{"d":"2021/9/29","v":0.3130},{"d":"2021/9/30","v":0.3095},{"d":"2021/10/1","v":0.3066},{"d":"2021/10/2","v":0.3040},{"d":"2021/10/3","v":0.3031},{"d":"2021/10/4","v":0.3031},{"d":"2021/10/5","v":0.3031},{"d":"2021/10/6","v":0.3029},{"d":"2021/10/7","v":0.3027},{"d":"2021/10/8","v":0.3027},{"d":"2021/10/9","v":0.3027}]
},
"encoding":{
"x":{"field":"d","type":"temporal","scale":{"domain":[{"year":2021,"month":3,"date":26,"hours":16},{"year":2021,"month":10,"date":9,"hours":16}]},
"axis":{"title":null,"values":[{"year":2021,"month":4,"date":1},{"year":2021,"month":5,"date":1},{"year":2021,"month":6,"date":1},{"year":2021,"month":7,"date":1},{"year":2021,"month":8,"date":1},{"year":2021,"month":9,"date":1},{"year":2021,"month":10,"date":1}],"format":"%-m月%-d日","labelFont":"Noto Sans CJK JP","labelFontSize":11.5,"labelColor":"#404040","labelPadding":7,"labelAngle":0,"labelFlush":false,"labelOverlap":false,"ticks":false,"domainColor":"#404040","domainWidth":2,"gridColor":"#d9d9d9","gridWidth":1.5}},
"y":{"field":"v","type":"quantitative","scale":{"domain":[0.27,0.34],"zero":false,"nice":false},
"axis":{"title":null,"values":[0.27,0.275,0.28,0.285,0.29,0.295,0.3,0.305,0.31,0.315,0.32,0.325,0.33,0.335,0.34],"labelExpr":"round(datum.value*1000) % 10 === 0 ? substring(format(datum.value,'.3f'),1) : ''","labelFont":"Noto Sans CJK JP","labelFontSize":11.5,"labelColor":"#404040","labelPadding":8,"ticks":false,"domain":false,"gridColor":{"condition":{"test":"round(datum.value*1000) % 10 === 0","value":"#d4d4d4"},"value":"#ececec"},"gridWidth":1.5}}
},
"layer":[
{"data":{"name":"sakakura"},"mark":{"type":"line","strokeWidth":4,"clip":true,"strokeJoin":"round"},"encoding":{"color":{"datum":"坂倉将吾","type":"nominal","scale":{"domain":["坂倉将吾","鈴木誠也","桑原将志","近本光司","佐野恵太","オースティン"],"range":["#ff00ff","#ff0000","#3d7fdc","#ffff00","#0000ff","#00ff00"]},"legend":{"orient":"none","legendX":2,"legendY":9,"direction":"horizontal","columns":6,"title":null,"symbolType":"stroke","symbolStrokeWidth":4,"symbolSize":144,"labelFont":"Noto Sans CJK JP","labelFontSize":11,"labelColor":"#404040","labelOffset":7,"columnPadding":6}}}},
{"data":{"name":"suzuki"},"mark":{"type":"line","strokeWidth":4,"clip":true,"strokeJoin":"round"},"encoding":{"color":{"datum":"鈴木誠也","type":"nominal"}}},
{"data":{"name":"kuwahara"},"mark":{"type":"line","strokeWidth":4,"clip":true,"strokeJoin":"round"},"encoding":{"color":{"datum":"桑原将志","type":"nominal"}}},
{"data":{"name":"chikamoto"},"mark":{"type":"line","strokeWidth":4,"clip":true,"strokeJoin":"round"},"encoding":{"color":{"datum":"近本光司","type":"nominal"}}},
{"data":{"name":"sano"},"mark":{"type":"line","strokeWidth":4,"clip":true,"strokeJoin":"round"},"encoding":{"color":{"datum":"佐野恵太","type":"nominal"}}},
{"data":{"name":"austin"},"mark":{"type":"line","strokeWidth":4,"clip":true,"strokeJoin":"round"},"encoding":{"color":{"datum":"オースティン","type":"nominal"}}}
]
}
